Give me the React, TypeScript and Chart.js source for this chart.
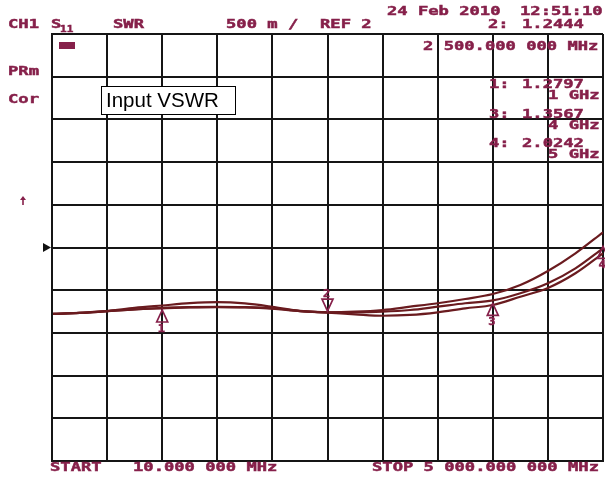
import React, { useEffect, useRef } from "react";
import { Chart, registerables } from "chart.js";

Chart.register(...registerables);

// Frequency axis (GHz): START 10 MHz, STOP 5 GHz
const freqGHz = [0.01, 0.25, 0.5, 0.75, 1.0, 1.25, 1.5, 1.75, 2.0, 2.25, 2.5, 2.75, 3.0, 3.25, 3.5, 3.75, 4.0, 4.25, 4.5, 4.75, 5.0];

// Three overlaid SWR traces
const swrTraceA = [1.222, 1.234, 1.254, 1.274, 1.293, 1.301, 1.304, 1.301, 1.288, 1.258, 1.241, 1.248, 1.268, 1.307, 1.347, 1.397, 1.455, 1.561, 1.725, 1.932, 2.178];
const swrTraceB = [1.222, 1.236, 1.256, 1.276, 1.288, 1.298, 1.302, 1.299, 1.284, 1.256, 1.242, 1.241, 1.248, 1.268, 1.307, 1.347, 1.38, 1.464, 1.581, 1.756, 1.991];
const swrTraceC = [1.222, 1.234, 1.256, 1.293, 1.321, 1.348, 1.36, 1.345, 1.305, 1.256, 1.238, 1.218, 1.201, 1.21, 1.241, 1.288, 1.327, 1.424, 1.526, 1.698, 1.932];

// Markers
const markerNums = [1, 2, 3, 4];
const markerFreqs = [1, 2.5, 4, 5];
const markerVals = [1.2797, 1.2444, 1.3567, 2.0242];
const markerPointDown = [false, true, false, false];
const markerFreqLabels = ["1 GHz", "2 500.000 000 MHz", "4 GHz", "5 GHz"];

// Axis settings
const refLevel = 2;
const perDiv = 0.5; // 500 m / div
const yMin = refLevel - 5 * perDiv;
const yMax = refLevel + 5 * perDiv;
const xMin = 0;
const xMax = 5;
const xStep = 0.5;

const TEXT = "#86204a";
const TRACE = "#6a1b1f";
const GRID = "#151515";
const MONO = "'DejaVu Sans Mono', monospace";

function hpText(ctx: CanvasRenderingContext2D, s: string, x: number, y: number, size = 11.5, sx = 1.49) {
  ctx.save();
  ctx.translate(x, y);
  ctx.scale(sx, 1);
  ctx.font = `bold ${size}px ${MONO}`;
  ctx.fillStyle = TEXT;
  ctx.strokeStyle = TEXT;
  ctx.lineWidth = 0.45;
  ctx.textBaseline = "alphabetic";
  ctx.textAlign = "left";
  ctx.fillText(s, 0, 0);
  ctx.strokeText(s, 0, 0);
  ctx.restore();
}

const overlayPlugin = {
  id: "hpOverlay",
  afterDraw(chart: any) {
    const ctx: CanvasRenderingContext2D = chart.ctx;
    const xs = chart.scales.x;
    const ys = chart.scales.y;

    // header
    hpText(ctx, "CH1", 8, 28);
    hpText(ctx, "S", 51, 28);
    hpText(ctx, "11", 60, 32, 8.5, 1.3);
    hpText(ctx, "SWR", 113, 28);
    hpText(ctx, `${perDiv * 1000} m /`, 226, 28);
    hpText(ctx, `REF ${refLevel}`, 320, 28);
    hpText(ctx, "24 Feb 2010", 387, 15);
    hpText(ctx, "12:51:10", 520, 15);
    hpText(ctx, `${markerNums[1]}:`, 488, 28);
    hpText(ctx, markerVals[1].toFixed(4), 522, 28);
    hpText(ctx, markerFreqLabels[1], 423, 50);
    hpText(ctx, "PRm", 8, 75);
    hpText(ctx, "Cor", 8, 103);

    // small status box
    ctx.fillStyle = TEXT;
    ctx.fillRect(59, 42, 16, 7);

    // other marker readouts
    const rows = [
      { i: 0, y: 88 },
      { i: 2, y: 118 },
      { i: 3, y: 147 },
    ];
    rows.forEach(({ i, y }) => {
      hpText(ctx, `${markerNums[i]}:`, 489, y);
      hpText(ctx, markerVals[i].toFixed(4), 522, y);
      hpText(ctx, markerFreqLabels[i], 548, y + 11);
    });

    // footer
    hpText(ctx, "START", 50, 471);
    hpText(ctx, "10.000 000 MHz", 133, 471);
    hpText(ctx, "STOP 5 000.000 000 MHz", 372, 471);

    // small arrow symbol on left
    ctx.save();
    ctx.strokeStyle = TEXT;
    ctx.fillStyle = TEXT;
    ctx.lineWidth = 1.6;
    ctx.beginPath();
    ctx.moveTo(23, 198);
    ctx.lineTo(23, 205);
    ctx.stroke();
    ctx.beginPath();
    ctx.moveTo(20, 200);
    ctx.lineTo(23, 196);
    ctx.lineTo(26, 200);
    ctx.closePath();
    ctx.fill();
    ctx.restore();

    // reference level arrow
    const yRef = ys.getPixelForValue(refLevel);
    ctx.save();
    ctx.fillStyle = "#111";
    ctx.beginPath();
    ctx.moveTo(43, yRef - 4.5);
    ctx.lineTo(43, yRef + 4.5);
    ctx.lineTo(51, yRef);
    ctx.closePath();
    ctx.fill();
    ctx.restore();

    // markers
    ctx.save();
    ctx.strokeStyle = TEXT;
    ctx.lineWidth = 1.7;
    markerFreqs.forEach((f, i) => {
      const px = xs.getPixelForValue(f);
      const py = ys.getPixelForValue(markerVals[i]);
      ctx.beginPath();
      if (markerPointDown[i]) {
        ctx.moveTo(px, py - 1);
        ctx.lineTo(px - 5.5, py - 13);
        ctx.lineTo(px + 5.5, py - 13);
      } else {
        ctx.moveTo(px, py + 1);
        ctx.lineTo(px - 5.5, py + 13);
        ctx.lineTo(px + 5.5, py + 13);
      }
      ctx.closePath();
      ctx.stroke();
      const ny = markerPointDown[i] ? py - 15 : py + 23;
      hpText(ctx, String(markerNums[i]), px - 4.5, ny, 10, 1.2);
    });
    ctx.restore();

    // annotation box
    ctx.save();
    ctx.fillStyle = "#fff";
    ctx.fillRect(101, 86, 135, 29);
    ctx.strokeStyle = "#000";
    ctx.lineWidth = 1;
    ctx.strokeRect(101.5, 86.5, 134, 28);
    ctx.fillStyle = "#000";
    ctx.font = "20.5px 'Liberation Sans', Arial, sans-serif";
    ctx.textBaseline = "alphabetic";
    ctx.fillText("Input VSWR", 106, 107);
    ctx.restore();
  },
};

export default function App() {
  const ref = useRef<HTMLCanvasElement | null>(null);

  useEffect(() => {
    if (!ref.current) return;
    const mk = (vals: number[]) => freqGHz.map((f, i) => ({ x: f, y: vals[i] }));
    const ds = (label: string, vals: number[]) => ({
      label,
      data: mk(vals),
      borderColor: TRACE,
      borderWidth: 2.2,
      pointRadius: 0,
      fill: false,
      cubicInterpolationMode: "monotone" as const,
    });
    const chart = new Chart(ref.current, {
      type: "line",
      data: {
        datasets: [ds("Trace A", swrTraceA), ds("Trace B", swrTraceB), ds("Trace C", swrTraceC)],
      },
      options: {
        animation: false,
        responsive: false,
        maintainAspectRatio: false,
        layout: { padding: { left: 52, right: 2, top: 34, bottom: 22 } },
        plugins: { legend: { display: false }, tooltip: { enabled: false }, title: { display: false } },
        scales: {
          x: {
            type: "linear",
            min: xMin,
            max: xMax,
            ticks: { display: false, stepSize: xStep },
            grid: { color: GRID, lineWidth: 2, drawTicks: false },
            border: { display: true, color: GRID, width: 2 },
          },
          y: {
            type: "linear",
            min: yMin,
            max: yMax,
            ticks: { display: false, stepSize: perDiv },
            grid: { color: GRID, lineWidth: 2, drawTicks: false },
            border: { display: true, color: GRID, width: 2 },
          },
        },
      },
      plugins: [overlayPlugin],
    });
    return () => chart.destroy();
  }, []);

  return (
    <div style={{ position: "fixed", left: 0, top: 0, width: 605, height: 483, background: "#fff" }}>
      <canvas ref={ref} width={605} height={483} style={{ width: 605, height: 483, display: "block" }} />
    </div>
  );
}
